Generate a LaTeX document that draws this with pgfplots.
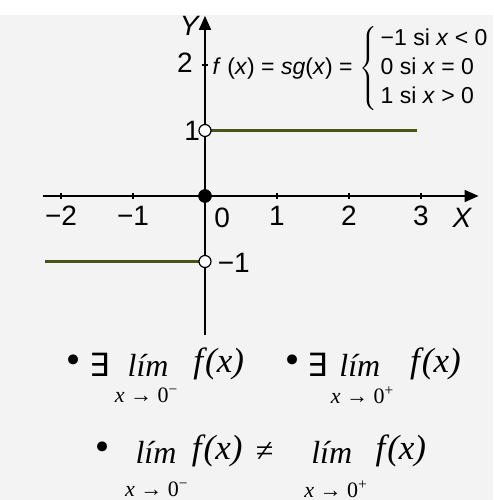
\documentclass[border=0pt]{standalone}
\usepackage{fontspec}
\setmainfont{Liberation Sans}
\newfontfamily\serif{Liberation Serif}
\newfontfamily\dejavu{DejaVu Sans}
\usepackage{pgfplots}
\pgfplotsset{compat=1.18}
\usetikzlibrary{arrows.meta}
\definecolor{olive}{RGB}{72,84,22}
\definecolor{paper}{RGB}{243,243,243}
\newcommand{\lab}{\fontsize{14}{16}\selectfont}
\newcommand{\bg}[1]{{\serif\fontsize{16}{18}\selectfont\itshape #1}}
\newcommand{\fx}{{\serif\fontsize{17.5}{19}\selectfont\itshape f\kern1pt(x)}}
\newcommand{\sub}[1]{{\serif\fontsize{11}{13}\selectfont #1}}
\newcommand{\bul}{{\dejavu\fontsize{17}{19}\selectfont •}}
\begin{document}
\begin{tikzpicture}
% page background (axis south west corner = (xmin,ymin) sits at (0,0))
\fill[paper] (-21.49pt,-82.56pt) rectangle (225pt,160.15pt);
\begin{axis}[
    at={(0,0)}, anchor=south west,
    x=36pt, y=32.75pt,
    axis lines=middle,
    xmin=-2.25, xmax=3.80,
    ymin=-2.12, ymax=2.75,
    axis line style={line width=0.8pt, -{Triangle[length=7pt,width=6pt]}},
    xtick={-2,-1,1,2,3},
    xticklabels={−2,−1,1,2,3},
    ytick={2}, yticklabels={},
    major tick length=3pt,
    tick style={black, line width=0.6pt},
    xticklabel style={font=\lab, yshift=0pt},
    clip=false,
]
\coordinate (bl) at (axis cs:-2.847,-4.641);
\coordinate (tr) at (axis cs:4.0,2.992);

% sign function
\addplot[olive, line width=1.6pt] coordinates {(-2.22,-1) (0,-1)};
\addplot[olive, line width=1.6pt] coordinates {(0,1) (2.95,1)};
\addplot[only marks, mark=*, mark size=3pt, mark options={fill=white, draw=black, line width=0.6pt}]
    coordinates {(0,1) (0,-1)};
\addplot[only marks, mark=*, mark size=3.2pt, black] coordinates {(0,0)};

% axis labels and extra tick labels
\node[font=\lab\itshape] at (axis cs:-0.22,2.59) {Y};
\node[font=\lab\itshape] at (axis cs:3.57,-0.34) {X};
\node[font=\lab] at (axis cs:0.24,-0.34) {0};
\node[font=\lab] at (axis cs:-0.28,2.03) {2};
\node[font=\lab] at (axis cs:-0.18,0.99) {1};
\node[font=\lab] at (axis cs:0.40,-1.02) {−1};

% definition
\node[font=\fontsize{11.5}{13}\selectfont, anchor=west, inner sep=0pt]
    at (axis cs:0.10,1.94)
    {\textit{f} (\textit{x}) = \textit{sg}(\textit{x}) = $\left\{\begin{tabular}{@{\,}l@{}}
    −1 si \textit{x} < 0\\[1.5pt] 0 si \textit{x} = 0\\[1.5pt] 1 si \textit{x} > 0\end{tabular}\right.$};

% one-sided limits
\node at (axis cs:-1.83,-2.56) {\bul};
\node at (axis cs:-1.46,-2.58) {\dejavu\fontsize{16}{18}\selectfont ∃};
\node at (axis cs:-0.79,-2.58) {\bg{lím}};
\node at (axis cs:0.19,-2.56) {\fx};
\node at (axis cs:-0.81,-3.04) {\sub{\textit{x} → 0\textsuperscript{−}}};

\node at (axis cs:1.22,-2.56) {\bul};
\node at (axis cs:1.56,-2.58) {\dejavu\fontsize{16}{18}\selectfont ∃};
\node at (axis cs:2.15,-2.58) {\bg{lím}};
\node at (axis cs:3.20,-2.56) {\fx};
\node at (axis cs:2.19,-3.04) {\sub{\textit{x} → 0\textsuperscript{+}}};

\node at (axis cs:-1.42,-3.89) {\bul};
\node at (axis cs:-0.68,-3.91) {\bg{lím}};
\node at (axis cs:0.17,-3.89) {\fx};
\node at (axis cs:0.83,-3.91) {\serif\fontsize{16}{18}\selectfont ≠};
\node at (axis cs:1.76,-3.91) {\bg{lím}};
\node at (axis cs:2.72,-3.89) {\fx};
\node at (axis cs:-0.67,-4.48) {\sub{\textit{x} → 0\textsuperscript{−}}};
\node at (axis cs:1.82,-4.48) {\sub{\textit{x} → 0\textsuperscript{+}}};
\end{axis}
\pgfresetboundingbox
\useasboundingbox (bl) rectangle (tr);
\end{tikzpicture}
\end{document}
